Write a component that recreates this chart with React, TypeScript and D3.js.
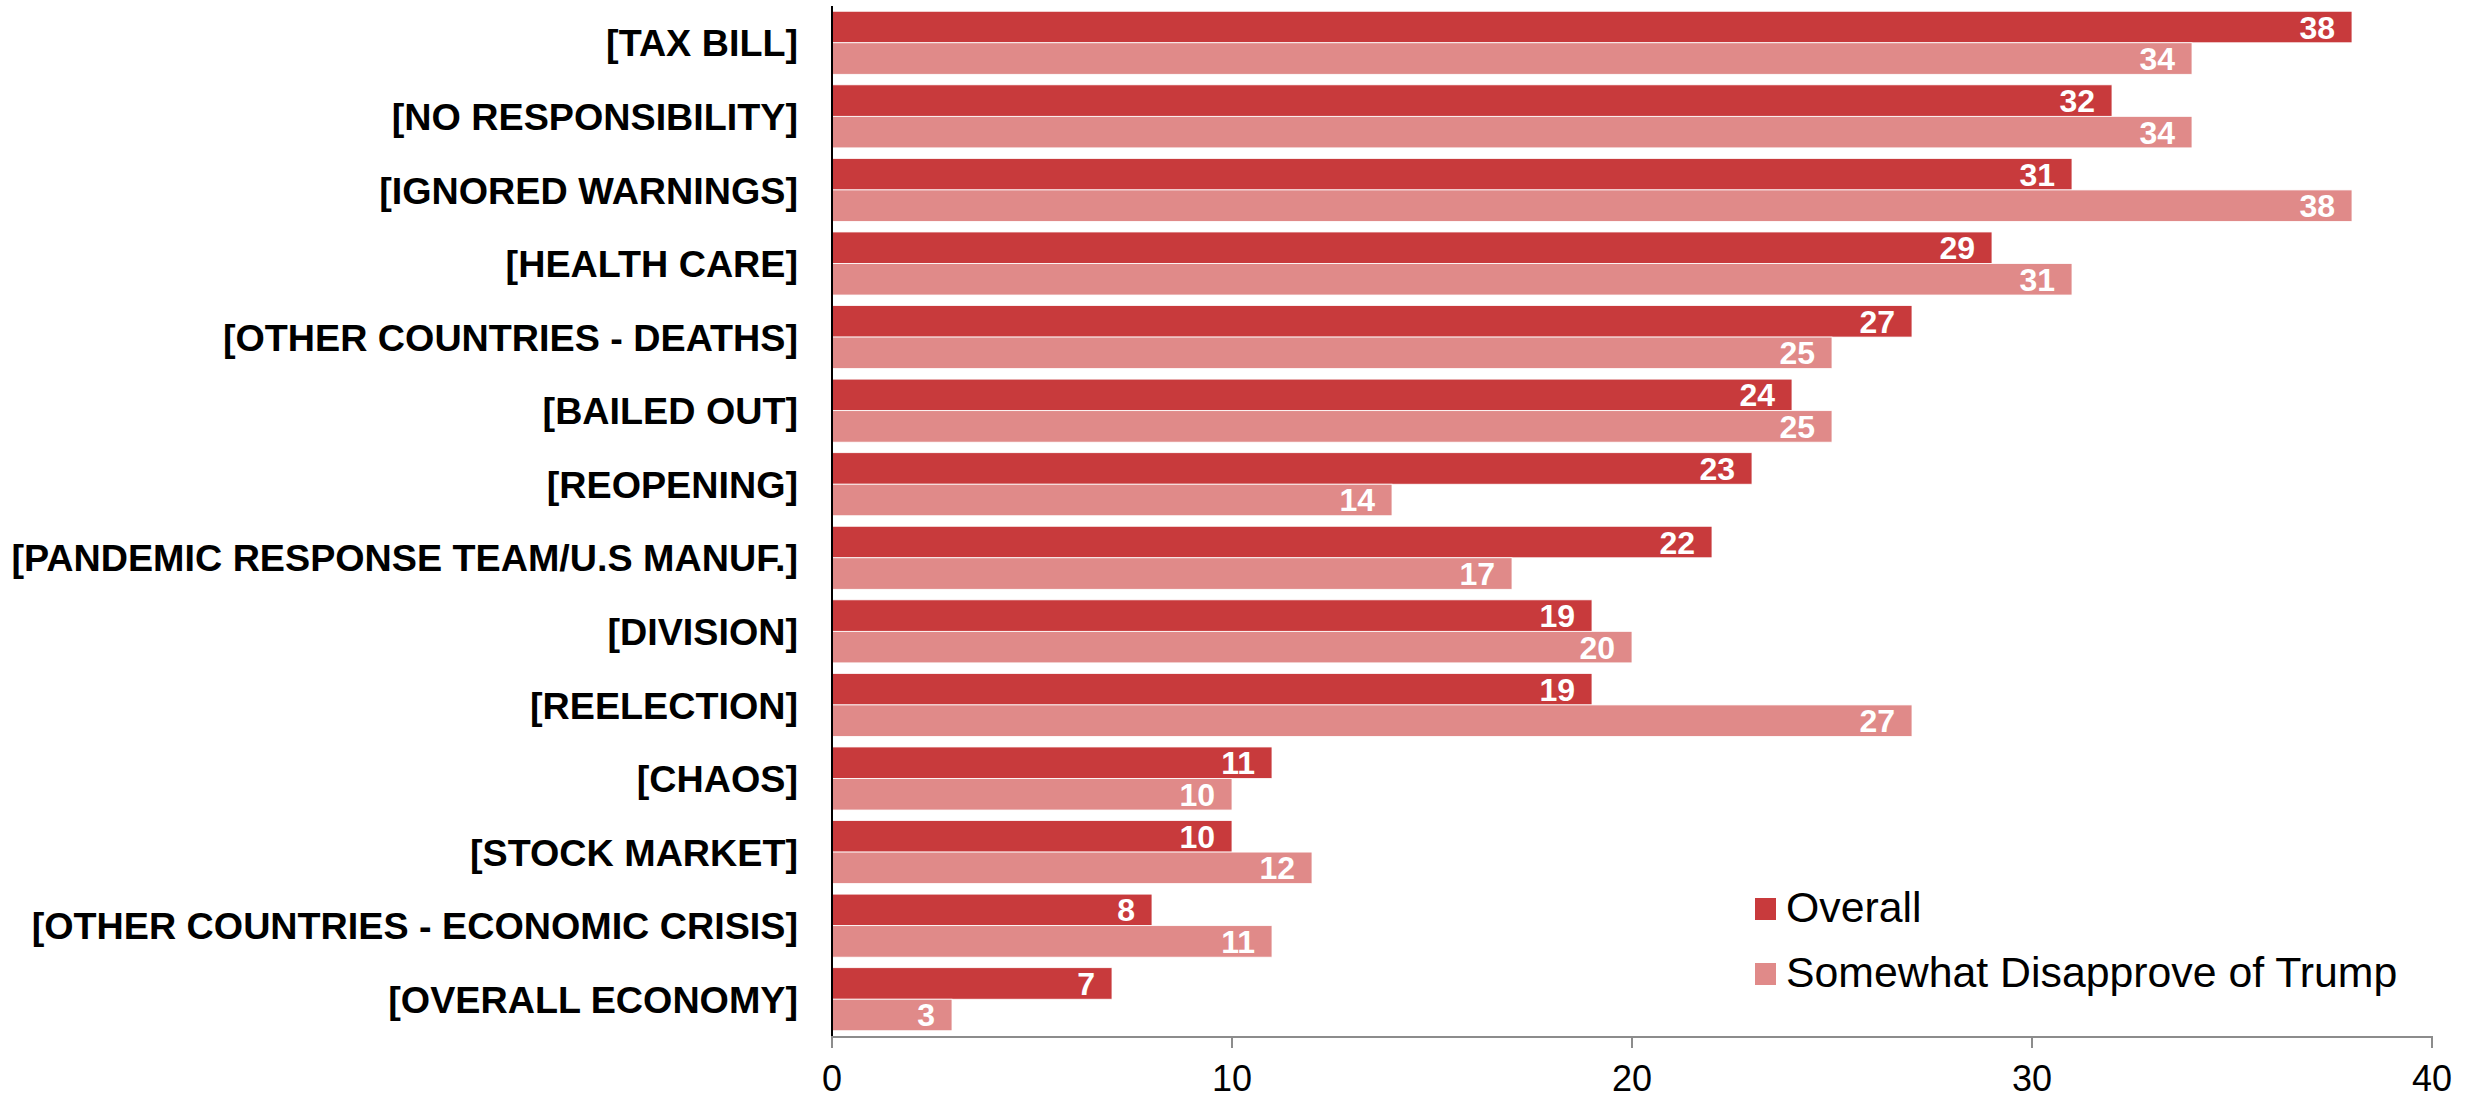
import React from "react";
import * as d3 from "d3";

const categories = [
  "[TAX BILL]",
  "[NO RESPONSIBILITY]",
  "[IGNORED WARNINGS]",
  "[HEALTH CARE]",
  "[OTHER COUNTRIES - DEATHS]",
  "[BAILED OUT]",
  "[REOPENING]",
  "[PANDEMIC RESPONSE TEAM/U.S MANUF.]",
  "[DIVISION]",
  "[REELECTION]",
  "[CHAOS]",
  "[STOCK MARKET]",
  "[OTHER COUNTRIES - ECONOMIC CRISIS]",
  "[OVERALL ECONOMY]",
];
const overall = [38, 32, 31, 29, 27, 24, 23, 22, 19, 19, 11, 10, 8, 7];
const somewhat = [34, 34, 38, 31, 25, 25, 14, 17, 20, 27, 10, 12, 11, 3];
const seriesNames = ["Overall", "Somewhat Disapprove of Trump"];
const seriesColors = ["#C83A3C", "#E08A89"];
const xTicks = [0, 10, 20, 30, 40];

const W = 2484;
const H = 1098;
const left = 832;
const right = 2432;
const top = 6;
const bottom = 1036;
const font = "'Liberation Sans', Arial, sans-serif";

export default function App() {
  const x = d3.scaleLinear().domain([0, 40]).range([left, right]);
  const y = d3
    .scaleBand<string>()
    .domain(categories)
    .range([top, bottom])
    .paddingInner(0.143)
    .paddingOuter(0.0715);
  const inner = d3.scaleBand<number>().domain([0, 1]).range([0, y.bandwidth()]);
  const series = [overall, somewhat];

  return (
    <svg
      width={W}
      height={H}
      style={{ position: "absolute", left: 0, top: 0, background: "#fff" }}
    >
      {categories.map((c, i) => (
        <g key={c}>
          {series.map((vals, s) => {
            const by = (y(c) as number) + (inner(s) as number);
            const bh = inner.bandwidth();
            return (
              <g key={s}>
                <rect
                  x={x(0)}
                  y={by}
                  width={x(vals[i]) - x(0)}
                  height={bh}
                  fill={seriesColors[s]}
                  stroke="#fff"
                  strokeWidth={0.8}
                />
                <text
                  x={x(vals[i]) - 17}
                  y={by + bh / 2}
                  dy="0.36em"
                  textAnchor="end"
                  fill="#fff"
                  fontFamily={font}
                  fontWeight="bold"
                  fontSize={32}
                >
                  {vals[i]}
                </text>
              </g>
            );
          })}
          <text
            x={798}
            y={(y(c) as number) + y.bandwidth() / 2}
            dy="0.36em"
            textAnchor="end"
            fontFamily={font}
            fontWeight="bold"
            fontSize={37.7}
            fill="#000"
          >
            {c}
          </text>
        </g>
      ))}
      {/* vertical axis */}
      <line x1={left} x2={left} y1={top} y2={bottom} stroke="#000" strokeWidth={2} />
      {/* horizontal axis */}
      <line x1={left} x2={right} y1={bottom + 1} y2={bottom + 1} stroke="#8c8c8c" strokeWidth={2} />
      {xTicks.map((t) => (
        <g key={t}>
          <line x1={x(t)} x2={x(t)} y1={bottom} y2={bottom + 12} stroke="#8c8c8c" strokeWidth={2} />
          <text
            x={x(t)}
            y={1078}
            dy="0.36em"
            textAnchor="middle"
            fontFamily={font}
            fontSize={36}
            fill="#000"
          >
            {t}
          </text>
        </g>
      ))}
      {/* legend */}
      {seriesNames.map((n, s) => (
        <g key={n}>
          <rect x={1755} y={898 + s * 65} width={21} height={22} fill={seriesColors[s]} />
          <text
            x={1786}
            y={907 + s * 65}
            dy="0.36em"
            fontFamily={font}
            fontSize={42.8}
            fill="#000"
          >
            {n}
          </text>
        </g>
      ))}
    </svg>
  );
}
